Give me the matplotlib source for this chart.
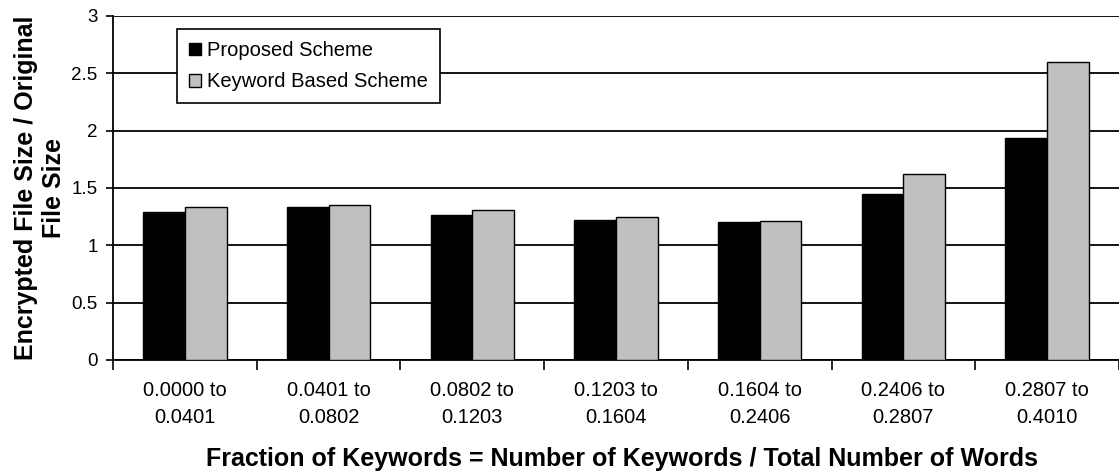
import numpy as np
import matplotlib.pyplot as plt
from matplotlib.patches import Patch

categories = ["0.0000 to\n0.0401", "0.0401 to\n0.0802", "0.0802 to\n0.1203",
              "0.1203 to\n0.1604", "0.1604 to\n0.2406", "0.2406 to\n0.2807",
              "0.2807 to\n0.4010"]
proposed = [1.29, 1.335, 1.265, 1.22, 1.20, 1.45, 1.935]
keyword = [1.33, 1.35, 1.31, 1.25, 1.215, 1.62, 2.60]
y_ticks = [0, 0.5, 1, 1.5, 2, 2.5, 3]
y_tick_labels = ["0", "0.5", "1", "1.5", "2", "2.5", "3"]

plt.rcParams['font.family'] = ['Liberation Sans', 'DejaVu Sans']


def main():
    fig = plt.figure(figsize=(11.19, 4.76), dpi=100)
    ax = fig.add_axes([0.101, 0.2437, 0.899, 0.7227])

    x = np.arange(len(categories))
    w = 0.29
    ax.bar(x - w / 2, proposed, w, color='black', edgecolor='black', linewidth=1, zorder=3)
    ax.bar(x + w / 2, keyword, w, color='#c0c0c0', edgecolor='black', linewidth=1, zorder=3)

    ax.set_xlim(-0.5, len(categories) - 0.5)
    ax.set_ylim(0, 3)
    ax.set_yticks(y_ticks)
    ax.set_yticklabels(y_tick_labels, fontsize=13.5)
    ax.yaxis.grid(True, color='black', linewidth=1.3, zorder=0)
    ax.set_axisbelow(True)

    # category labels centred, ticks at the boundaries
    ax.set_xticks(x)
    ax.set_xticklabels(categories, fontsize=14.5, linespacing=1.55)
    ax.tick_params(axis='x', length=0, pad=15)
    ax.set_xticks(np.arange(len(categories) + 1) - 0.5, minor=True)
    ax.tick_params(axis='x', which='minor', length=7, width=1.2, color='black')
    ax.tick_params(axis='y', length=5, width=1.2, color='black', pad=6)

    for s in ['top', 'right']:
        ax.spines[s].set_visible(False)
    ax.spines['left'].set_linewidth(1.3)
    ax.spines['bottom'].set_linewidth(1.3)

    fig.text(622 / 1119, 1 - 459 / 476,
             "Fraction of Keywords = Number of Keywords / Total Number of Words",
             fontsize=18, fontweight='bold', ha='center', va='center')
    ax.set_ylabel("Encrypted File Size / Original\nFile Size",
                  fontsize=18, fontweight='bold', labelpad=4, linespacing=1.2)

    handles = [Patch(facecolor='black', edgecolor='black'),
               Patch(facecolor='#c0c0c0', edgecolor='black')]
    leg = ax.legend(handles, ["Proposed Scheme", "Keyword Based Scheme"],
                    loc='upper left', bbox_to_anchor=(0.0636, 0.962), fontsize=14.5,
                    frameon=True, fancybox=False, framealpha=1, edgecolor='black',
                    handlelength=0.6, handleheight=0.6, handletextpad=0.3,
                    borderpad=0.6, labelspacing=0.6, borderaxespad=0)
    leg.get_frame().set_linewidth(1.2)

    fig.savefig("out.png", dpi=100)


if __name__ == "__main__":
    main()
